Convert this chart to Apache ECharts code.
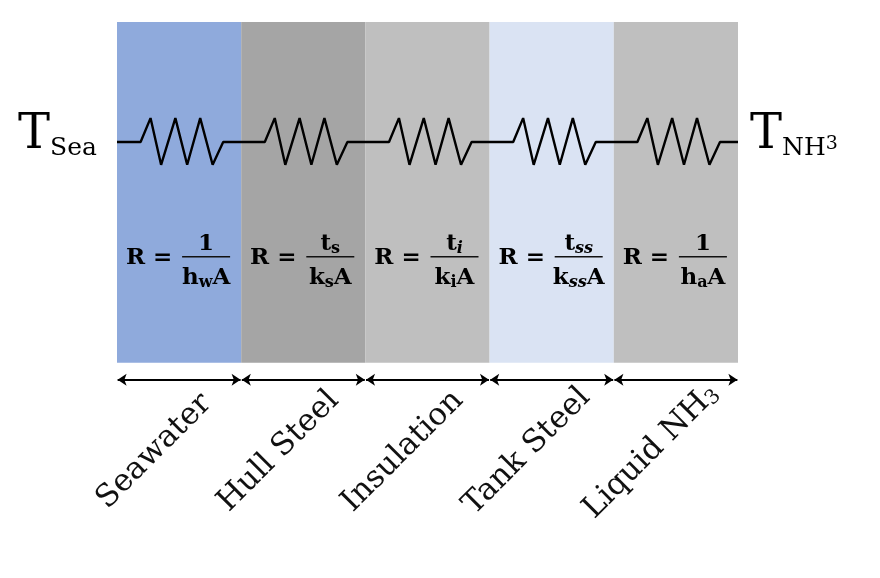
<!DOCTYPE html>
<html><head><meta charset="utf-8">
<script src="https://cdn.jsdelivr.net/npm/echarts@6/dist/echarts.min.js"></script>
<style>html,body{margin:0;background:#fff}#main{width:880px;height:578px}</style>
</head><body><div id="main"></div>
<script>
// layers of the wall, left (sea) to right (tank)
var layers = ['Seawater', 'Hull Steel', 'Insulation', 'Tank Steel', 'Liquid NH3'];
var layerColors = ['#8FAADC', '#A5A5A5', '#BFBFBF', '#DAE3F3', '#BFBFBF'];
// resistor shape inside one layer: x offset (fraction of layer) and y offset
var zigX = [0, 0.19, 0.27, 0.355, 0.47, 0.565, 0.67, 0.77, 0.855, 1];
var zigY = [0, 0, 0.070, -0.067, 0.070, -0.067, 0.070, -0.067, 0, 0];
var wireY = 0.648;
// formulas: numerator / denominator, pieces [text, style]
var numer = [[['1','b']], [['t','b'],['s','s']], [['t','b'],['i','si']], [['t','b'],['ss','si']], [['1','b']]];
var denom = [[['h','b'],['w','s'],['A','b']], [['k','b'],['s','s'],['A','b']], [['k','b'],['i','s'],['A','b']],
             [['k','b'],['ss','si'],['A','b']], [['h','b'],['a','s'],['A','b']]];

var chart = echarts.init(document.getElementById('main'));
var serif = '"DejaVu Serif", "Liberation Serif", serif';
var fml = '"DejaVu Serif", serif';
var rich = {
  b: {fontFamily: fml, fontWeight: 'bold', fontSize: 23, color: '#111'},
  s: {fontFamily: fml, fontWeight: 'bold', fontSize: 16, color: '#111', padding: [10, 0, 0, 0]},
  si: {fontFamily: fml, fontWeight: 'bold', fontStyle: 'italic', fontSize: 16, color: '#111', padding: [10, 0, 0, 0]}
};
function toRich(parts) { return parts.map(function (p) { return '{' + p[1] + '|' + p[0] + '}'; }).join(''); }

var wire = [];
layers.forEach(function (l, i) {
  zigX.forEach(function (fx, k) { wire.push([i + fx, wireY + zigY[k]]); });
});

chart.setOption({
  animation: false,
  grid: {left: 117, right: 142, top: 22, bottom: 113},
  xAxis: {type: 'value', min: 0, max: 5, show: false},
  yAxis: {type: 'value', min: -0.3, max: 1, show: false},
  series: [
    {
      type: 'custom',
      data: layers.map(function (l, i) { return [i, i + 1]; }),
      renderItem: function (params, api) {
        var p0 = api.coord([api.value(0), 1]);
        var p1 = api.coord([api.value(1), 0]);
        return {type: 'rect', shape: {x: p0[0], y: p0[1], width: p1[0] - p0[0], height: p1[1] - p0[1]},
                style: {fill: layerColors[params.dataIndex]}};
      },
      z: 1
    },
    {
      type: 'line', data: wire, symbol: 'none',
      lineStyle: {color: '#000', width: 2.4}, z: 3
    },
    {
      type: 'custom',
      data: layers.map(function (l, i) { return [i + 0.5, 0.308]; }),
      renderItem: function (params, api) {
        var c = api.coord([api.value(0), api.value(1)]);
        var i = params.dataIndex;
        return {type: 'group', children: [
          {type: 'text', x: c[0] - 30, y: c[1], style: {text: '{b|R =}', rich: rich,
            align: 'center', verticalAlign: 'middle'}},
          {type: 'line', shape: {x1: c[0] + 3, y1: c[1] - 1, x2: c[0] + 51, y2: c[1] - 1},
            style: {stroke: '#111', lineWidth: 1.5}},
          {type: 'text', x: c[0] + 27, y: c[1] - 14, style: {text: toRich(numer[i]), rich: rich,
            align: 'center', verticalAlign: 'middle'}},
          {type: 'text', x: c[0] + 27, y: c[1] + 20, style: {text: toRich(denom[i]), rich: rich,
            align: 'center', verticalAlign: 'middle'}}
        ]};
      },
      z: 4
    },
    {
      type: 'lines', coordinateSystem: 'cartesian2d', polyline: false,
      symbol: ['arrow', 'arrow'], symbolSize: 9,
      lineStyle: {color: '#000', width: 2, opacity: 1},
      data: layers.map(function (l, i) { return {coords: [[i + 0.005, -0.05], [i + 0.995, -0.05]]}; }),
      z: 3
    },
    {
      type: 'scatter', symbolSize: 0, itemStyle: {opacity: 1, color: '#111'},
      data: layers.map(function (l, i) { return {value: [i + 0.3, -0.26], name: l}; }),
      label: {
        show: true, position: 'inside', rotate: 45, color: '#111', textBorderWidth: 0, opacity: 1,
        formatter: function (p) {
          return p.name === 'Liquid NH3' ? '{t|Liquid NH}{sub|3}' : '{t|' + p.name + '}';
        },
        rich: {
          t: {fontFamily: serif, fontSize: 31, color: '#111', textBorderWidth: 0},
          sub: {fontFamily: serif, fontSize: 20, color: '#111', textBorderWidth: 0, padding: [12, 0, 0, 0]}
        }
      },
      z: 5
    }
  ],
  graphic: [
    {type: 'text', left: 18, top: 112, style: {text: '{t|T}{s|Sea}',
      rich: {t: {fontFamily: serif, fontSize: 48, color: '#111'},
             s: {fontFamily: serif, fontSize: 25, color: '#111', padding: [24, 0, 0, 0]}}}},
    {type: 'text', left: 750, top: 112, style: {text: '{t|T}{s|NH}{u|3}',
      rich: {t: {fontFamily: serif, fontSize: 48, color: '#111'},
             s: {fontFamily: serif, fontSize: 25, color: '#111', padding: [24, 0, 0, 0]},
             u: {fontFamily: serif, fontSize: 19, color: '#111', padding: [16, 0, 0, 0]}}}}
  ]
});
</script></body></html>
